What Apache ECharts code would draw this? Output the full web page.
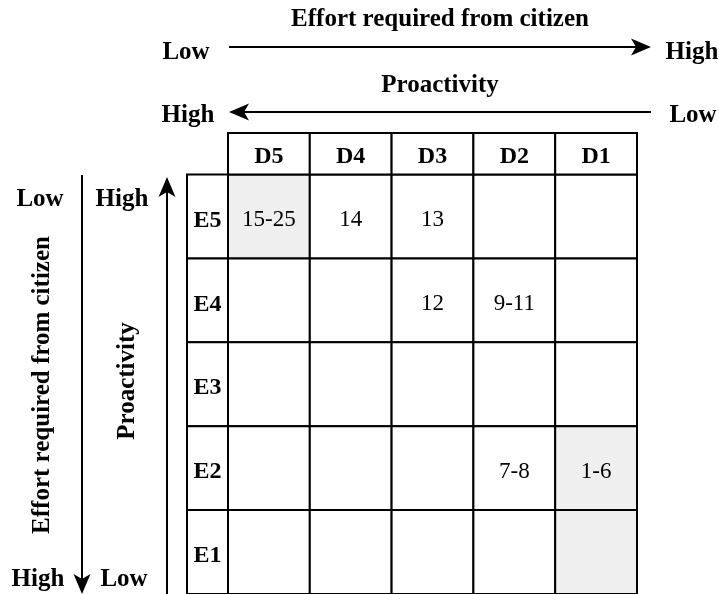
<!DOCTYPE html>
<html>
<head>
<meta charset="utf-8">
<script src="https://cdn.jsdelivr.net/npm/echarts@6/dist/echarts.min.js"></script>
<style>html,body{margin:0;padding:0;background:#fff;}#c{width:719px;height:594px;}</style>
</head>
<body>
<div id="c"></div>
<script>
const columns = ['D5', 'D4', 'D3', 'D2', 'D1'];
const rows = ['E5', 'E4', 'E3', 'E2', 'E1'];
const cellText = [
  ['15-25', '14', '13', '', ''],
  ['', '', '12', '9-11', ''],
  ['', '', '', '', ''],
  ['', '', '', '7-8', '1-6'],
  ['', '', '', '', '']
];
const shadedCells = [['D5', 'E5'], ['D1', 'E2'], ['D1', 'E1']];
const axisTitle = 'Effort required from citizen';
const axisTitle2 = 'Proactivity';

const FONT = '"Liberation Serif", "Times New Roman", serif';
const isShaded = (c, r) => shadedCells.some(s => s[0] === c && s[1] === r);

const mainData = [];
rows.forEach(r => columns.forEach(c => mainData.push([c, r])));
const headData = columns.map(c => [c, 'h']);
const rowHeadData = rows.map(r => ['e', r]);

function cellRenderer(getText, getFill, font, dy) {
  return function (params, api) {
    const c = api.coord([api.value(0), api.value(1)]);
    const s = api.size([0, 0]);
    const w = s[0], h = s[1];
    return {
      type: 'rect',
      shape: { x: c[0] - w / 2, y: c[1] - h / 2, width: w, height: h },
      style: { fill: getFill(params.dataIndex), stroke: '#000', lineWidth: 2 },
      textContent: {
        type: 'text',
        style: { text: getText(params.dataIndex), font: font, fill: '#000' }
      },
      textConfig: { position: 'inside', offset: [0, dy] }
    };
  };
}

const chart = echarts.init(document.getElementById('c'));
const boldText = (t, x, y, rot) => ({
  type: 'text', x: x, y: y, rotation: rot || 0,
  style: { text: t, font: 'bold 25px ' + FONT, fill: '#000', align: 'center', verticalAlign: 'middle' }
});
const line = (x1, y1, x2, y2) => ({
  type: 'line', shape: { x1, y1, x2, y2 }, style: { stroke: '#000', lineWidth: 2 }
});
const head = (x, y, dir) => {
  const L = 20, W = 8.5, N = 5;
  const cos = Math.cos(dir), sin = Math.sin(dir);
  const p = (a, b) => [x + a * cos - b * sin, y + a * sin + b * cos];
  return {
    type: 'polygon',
    shape: { points: [p(0, 0), p(-L, -W), p(-L + N, 0), p(-L, W)] },
    style: { fill: '#000' }
  };
};

chart.setOption({
  animation: false,
  grid: [
    { left: 228, top: 174.5, width: 409, height: 421.5 },
    { left: 228, top: 133, width: 409, height: 41.5 },
    { left: 187, top: 174.5, width: 41, height: 421.5 }
  ],
  xAxis: [
    { type: 'category', data: columns, gridIndex: 0, show: false },
    { type: 'category', data: columns, gridIndex: 1, show: false },
    { type: 'category', data: ['e'], gridIndex: 2, show: false }
  ],
  yAxis: [
    { type: 'category', data: rows, gridIndex: 0, show: false, inverse: true },
    { type: 'category', data: ['h'], gridIndex: 1, show: false },
    { type: 'category', data: rows, gridIndex: 2, show: false, inverse: true }
  ],
  series: [
    {
      type: 'custom', xAxisIndex: 0, yAxisIndex: 0, data: mainData,
      renderItem: cellRenderer(
        i => cellText[rows.indexOf(mainData[i][1])][columns.indexOf(mainData[i][0])],
        i => isShaded(mainData[i][0], mainData[i][1]) ? '#efefef' : '#fff',
        '23px ' + FONT, 4)
    },
    {
      type: 'custom', xAxisIndex: 1, yAxisIndex: 1, data: headData,
      renderItem: cellRenderer(i => columns[i], () => '#fff', 'bold 24px ' + FONT, 3)
    },
    {
      type: 'custom', xAxisIndex: 2, yAxisIndex: 2, data: rowHeadData,
      renderItem: cellRenderer(i => rows[i], () => '#fff', 'bold 24px ' + FONT, 4)
    }
  ],
  graphic: [
    boldText(axisTitle, 440, 20),
    boldText('Low', 186, 53),
    boldText('High', 692, 53),
    line(229, 47, 640, 47),
    head(651, 47, 0),
    boldText(axisTitle2, 440, 86),
    boldText('High', 188, 116),
    boldText('Low', 693, 116),
    line(240, 112, 651, 112),
    head(229, 112, Math.PI),
    boldText(axisTitle, 43, 385, Math.PI / 2),
    boldText(axisTitle2, 128, 381, Math.PI / 2),
    boldText('Low', 40, 200),
    boldText('High', 122, 200),
    boldText('High', 38, 580),
    boldText('Low', 124, 580),
    line(82, 175, 82, 583),
    head(82, 594, Math.PI / 2),
    line(167, 594, 167, 188),
    head(167, 177, -Math.PI / 2)
  ]
});
</script>
</body>
</html>
